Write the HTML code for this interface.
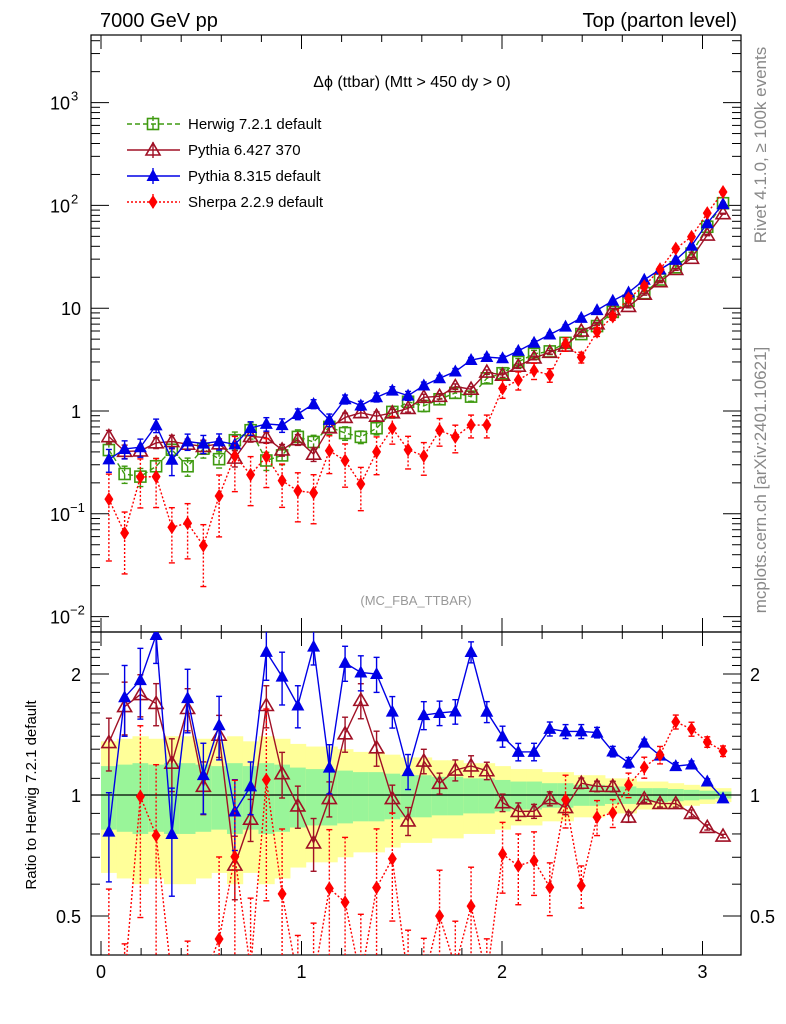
<!DOCTYPE html>
<html><head><meta charset="utf-8"><style>
html,body{margin:0;padding:0;background:#fff;overflow:hidden;width:786px;height:1024px}
svg{display:block;font-family:"Liberation Sans",sans-serif}
</style></head><body>
<svg id="chart" width="786" height="1024" viewBox="0 0 786 1024" xmlns="http://www.w3.org/2000/svg">
<defs>
<clipPath id="cm"><rect x="91" y="35" width="650" height="597"/></clipPath>
<clipPath id="cr"><rect x="91" y="632" width="650" height="323"/></clipPath>
</defs>
<text x="100" y="27" font-size="20">7000 GeV pp</text>
<text x="737" y="27" font-size="20" text-anchor="end">Top (parton level)</text>
<text x="412" y="87" font-size="16" text-anchor="middle">Δϕ (ttbar) (Mtt &gt; 450 dy &gt; 0)</text>
<text x="416" y="605" font-size="13" fill="#999" text-anchor="middle">(MC_FBA_TTBAR)</text>
<text transform="translate(766,145) rotate(-90)" font-size="17" fill="#888" text-anchor="middle">Rivet 4.1.0, ≥ 100k events</text>
<text transform="translate(766,480) rotate(-90)" font-size="17" fill="#888" text-anchor="middle">mcplots.cern.ch [arXiv:2401.10621]</text>
<text transform="translate(36,795) rotate(-90)" font-size="15" text-anchor="middle">Ratio to Herwig 7.2.1 default</text>
<g id="bands" clip-path="url(#cr)"></g>
<g id="axes"></g>
<g id="mainMarks" clip-path="url(#cm)"></g>
<g id="ratioMarks" clip-path="url(#cr)"></g>
<g id="legend"></g>
</svg>
<script>
const herwig=[0.417,0.244,0.23,0.29,0.42,0.29,0.43,0.34,0.52,0.65,0.33,0.37,0.56,0.50,0.70,0.61,0.56,0.68,0.98,1.23,1.12,1.30,1.5,1.38,2.08,2.33,3.0,3.6,3.8,4.6,5.6,6.7,9.2,11.8,14,19,25,34,62,105];
const herwigErr=[0.18,0.19,0.2,0.19,0.2,0.2,0.19,0.18,0.2,0.18,0.2,0.19,0.17,0.16,0.16,0.15,0.14,0.14,0.13,0.12,0.12,0.11,0.11,0.1,0.1,0.09,0.08,0.08,0.07,0.07,0.06,0.06,0.05,0.05,0.04,0.04,0.035,0.03,0.025,0.02];
const pythia6=[0.563,0.405,0.409,0.490,0.504,0.476,0.452,0.479,0.348,0.566,0.551,0.418,0.526,0.38,0.686,0.866,0.963,0.891,0.96,1.06,1.36,1.39,1.73,1.63,2.39,2.23,2.73,3.28,3.72,4.28,5.99,7.04,9.66,10.4,13.7,18.1,23.8,30.6,51.5,83];
const pythia6Err=[0.15,0.15,0.12,0.12,0.15,0.12,0.15,0.12,0.18,0.12,0.12,0.13,0.12,0.15,0.1,0.1,0.1,0.1,0.08,0.08,0.07,0.06,0.06,0.06,0.05,0.05,0.05,0.04,0.04,0.04,0.03,0.03,0.03,0.03,0.02,0.02,0.02,0.02,0.015,0.01];
const pythia8=[0.338,0.427,0.444,0.725,0.336,0.505,0.482,0.507,0.473,0.683,0.749,0.729,0.935,1.17,0.819,1.30,1.13,1.36,1.58,1.41,1.77,2.08,2.42,3.13,3.35,3.26,3.84,4.61,5.55,6.62,8.06,9.58,11.8,14.2,18.9,23.8,29.5,40.5,67,103];
const pythia8Err=[0.25,0.2,0.2,0.15,0.3,0.18,0.2,0.18,0.2,0.15,0.15,0.15,0.12,0.1,0.14,0.1,0.1,0.1,0.09,0.1,0.08,0.07,0.07,0.06,0.06,0.06,0.05,0.05,0.04,0.04,0.04,0.03,0.03,0.03,0.02,0.02,0.02,0.02,0.015,0.01];
const sherpa=[0.139,0.065,0.228,0.23,0.074,0.081,0.049,0.149,0.365,0.24,0.36,0.21,0.167,0.16,0.41,0.33,0.195,0.40,0.68,0.42,0.365,0.65,0.56,0.73,0.73,1.66,2.0,2.47,2.24,4.48,3.33,5.9,8.3,12.5,16.4,23.9,38,49.6,84,135];
const sherpaErr=[0.75,0.6,0.5,0.5,0.55,0.55,0.6,0.6,0.55,0.5,0.5,0.45,0.5,0.5,0.4,0.45,0.45,0.4,0.3,0.35,0.35,0.3,0.3,0.25,0.25,0.2,0.2,0.18,0.15,0.15,0.12,0.1,0.08,0.07,0.06,0.05,0.04,0.04,0.03,0.03];
const xTicks=[0,1,2,3];
const NB=40, XMAX=Math.PI;

const NS="http://www.w3.org/2000/svg";
function X(v){return 101+200.5*v;}
function Y(v){return Math.min(411-102.8*Math.log10(v),700);}
function R(r){return Math.max(Math.min(795-121*Math.log2(r),980),600);}
function binC(i){return (i+0.5)*XMAX/NB;}
function mk(tag,attrs,parent){const e=document.createElementNS(NS,tag);for(const k in attrs)e.setAttribute(k,attrs[k]);parent.appendChild(e);return e;}
const axes=document.getElementById('axes');
const mm=document.getElementById('mainMarks');
const rm=document.getElementById('ratioMarks');
const bands=document.getElementById('bands');
const lg=document.getElementById('legend');

for(let i=0;i<NB;i++){
  const x0=X(i*XMAX/NB),x1=X((i+1)*XMAX/NB),e=herwigErr[i];
  const y=mk('rect',{x:x0,y:R(1+2*e),width:x1-x0+0.5,height:R(Math.max(1-2*e,0.3))-R(1+2*e),fill:'#ffff99'},bands);
  
  
  const g=mk('rect',{x:x0,y:R(1+e),width:x1-x0+0.5,height:R(1-e)-R(1+e),fill:'#99f599'},bands);
  
  
}
mk('line',{x1:91,x2:741,y1:795,y2:795,stroke:'#000','stroke-width':1.2},bands);

mk('rect',{x:91,y:35,width:650,height:597,fill:'none',stroke:'#000','stroke-width':1.2},axes);
mk('rect',{x:91,y:632,width:650,height:323,fill:'none',stroke:'#000','stroke-width':1.2},axes);
for(let v=0;v<=3.2;v+=0.2){
  const vv=Math.round(v*10)/10; const major=Math.abs(vv-Math.round(vv))<1e-6; const L=major?14:7;
  [[632,-1],[955,-1],[35,1],[632,1]].forEach(([y0,d])=>mk('line',{x1:X(vv),x2:X(vv),y1:y0,y2:y0+d*L,stroke:'#000'},axes));
}
xTicks.forEach(v=>{const t=mk('text',{x:X(v),y:978,'font-size':18,'text-anchor':'middle'},axes);t.textContent=v;

});
for(let d=-3;d<=3;d++){for(let m=1;m<=9;m++){const v=m*Math.pow(10,d);const y=411-102.8*Math.log10(v);if(y<35||y>632)continue;const L=m===1?18:9;
 mk('line',{x1:91,x2:91+L,y1:y,y2:y,stroke:'#000'},axes);mk('line',{x1:741,x2:741-L,y1:y,y2:y,stroke:'#000'},axes);}}
const ylab=[[3,'10','3'],[2,'10','2'],[1,'10',''],[0,'1',''],[-1,'10','−1'],[-2,'10','−2']];
ylab.forEach(([d,b,s])=>{const t=mk('text',{x:s?70:81,y:Y(Math.pow(10,d))+7,'font-size':18,'text-anchor':'end'},axes);t.textContent=b;


 if(s){const sp=mk('text',{x:s.length>1?70:71,y:Y(Math.pow(10,d))-2,'font-size':13},axes);sp.textContent=s;}});
[0.5,0.6,0.7,0.8,0.9,1,1.5,2].forEach(r=>{const y=R(r);const L=(r===0.5||r===1||r===2)?18:9;
 mk('line',{x1:91,x2:91+L,y1:y,y2:y,stroke:'#000'},axes);mk('line',{x1:741,x2:741-L,y1:y,y2:y,stroke:'#000'},axes);});
for(let r=1.1;r<2.45;r+=0.1){if(Math.abs(r-1.5)<0.01||Math.abs(r-2)<0.01)continue;const y=R(r);if(y<632)continue;
 mk('line',{x1:91,x2:100,y1:y,y2:y,stroke:'#000'},axes);mk('line',{x1:741,x2:732,y1:y,y2:y,stroke:'#000'},axes);}
[[2,'2'],[1,'1'],[0.5,'0.5']].forEach(([r,s])=>{const t=mk('text',{x:81,y:R(r)+7,'font-size':18,'text-anchor':'end'},axes);t.textContent=s;


const t2=mk('text',{x:750,y:R(r)+7,'font-size':18},axes);t2.textContent=s;});

function marker(g,type,x,y,col){
  if(type==='sq')return mk('rect',{x:x-5.5,y:y-5.5,width:11,height:11,fill:'#fff','fill-opacity':0,stroke:col,'stroke-width':1.6},g);
  if(type==='otri')return mk('polygon',{points:`${x},${y-7} ${x-7},${y+5} ${x+7},${y+5}`,fill:'none',stroke:col,'stroke-width':1.6},g);
  if(type==='tri')return mk('polygon',{points:`${x},${y-7} ${x-6.5},${y+5} ${x+6.5},${y+5}`,fill:col},g);
  return mk('polygon',{points:`${x},${y-7} ${x-4.5},${y} ${x},${y+7} ${x+4.5},${y}`,fill:col},g);
}
const series=[
 {name:'herwig',label:'Herwig 7.2.1 default',vals:herwig,err:herwigErr,col:'#3f9a10',type:'sq',dash:'5,3'},
 {name:'pythia6',label:'Pythia 6.427 370',vals:pythia6,err:pythia6Err,col:'#a01025',type:'otri',dash:''},
 {name:'pythia8',label:'Pythia 8.315 default',vals:pythia8,err:pythia8Err,col:'#0000e6',type:'tri',dash:''},
 {name:'sherpa',label:'Sherpa 2.2.9 default',vals:sherpa,err:sherpaErr,col:'#ff0000',type:'dia',dash:'2,2'}
];
series.forEach((s,si)=>{
  const gm=mk('g',{},mm);
  
  
  const gr=mk('g',{},rm);
  
  
  let pm=[],pr=[];
  for(let i=0;i<NB;i++){const x=X(binC(i));pm.push(x+','+Y(s.vals[i]));pr.push(x+','+R(s.vals[i]/herwig[i]));}
  mk('polyline',{points:pm.join(' '),fill:'none',stroke:s.col,'stroke-width':1.4,'stroke-dasharray':s.dash},gm);
  if(si>0)mk('polyline',{points:pr.join(' '),fill:'none',stroke:s.col,'stroke-width':1.4,'stroke-dasharray':s.dash},gr);
  for(let i=0;i<NB;i++){
    const x=X(binC(i)),v=s.vals[i],e=s.err[i];
    const lo=Math.max(v*(1-e),1e-3),hi=v*(1+e);
    const eb=[[gm,Y(hi),Y(lo),Y(v)]];
    if(si>0){const r=v/herwig[i];eb.push([gr,R(r*(1+e)),R(Math.max(r*(1-e),0.05)),R(r)]);}
    eb.forEach(([g,y1,y2,yc])=>{
      mk('line',{x1:x,x2:x,y1:y1,y2:y2,stroke:s.col,'stroke-width':1.4,'stroke-dasharray':s.dash},g);
      mk('line',{x1:x-3,x2:x+3,y1:y1,y2:y1,stroke:s.col,'stroke-width':1.4},g);
      mk('line',{x1:x-3,x2:x+3,y1:y2,y2:y2,stroke:s.col,'stroke-width':1.4},g);
      const m=marker(g,s.type,x,yc,s.col);
      
      
    });
  }
  const ly=124+26*si;
  const le=mk('g',{},lg);
  
  
  mk('line',{x1:127,x2:180,y1:ly,y2:ly,stroke:s.col,'stroke-width':1.4,'stroke-dasharray':s.dash},le);
  mk('line',{x1:153,x2:153,y1:ly-8,y2:ly+8,stroke:s.col,'stroke-width':1.4,'stroke-dasharray':s.dash},le);
  marker(le,s.type,153,ly,s.col);
  const t=mk('text',{x:188,y:ly+5,'font-size':15},le);t.textContent=s.label;
});
</script>
</body></html>
